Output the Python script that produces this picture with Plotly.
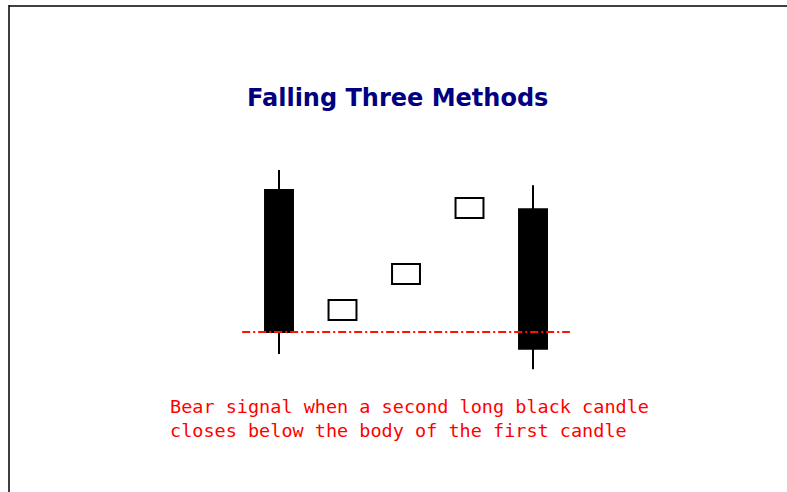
import plotly.graph_objects as go

# Five sessions of the falling three methods pattern
sessions = [1, 2, 3, 4, 5]
open_px = [47.5, 15.0, 24.0, 40.5, 42.7]
high_px = [52.5, 20.0, 29.0, 45.5, 48.7]
low_px = [6.5, 15.0, 24.0, 40.5, 2.7]
close_px = [12.0, 20.0, 29.0, 45.5, 7.8]

title_text = "Falling Three Methods"
note_lines = [
    "Bear signal when a second long black candle",
    "closes below the body of the first candle",
]

W, H = 787, 492
BODY_WIDTH = 0.44  # candle body width in session units

fig = go.Figure()

body_base = [min(o, c) for o, c in zip(open_px, close_px)]
body_top = [max(o, c) for o, c in zip(open_px, close_px)]
body_len = [t - b for b, t in zip(body_base, body_top)]
body_fill = ["black" if c < o else "white" for o, c in zip(open_px, close_px)]

# Wicks: upper and lower shadows outside each body
wick_x, wick_y = [], []
for s, lo, hi, b, t in zip(sessions, low_px, high_px, body_base, body_top):
    if hi > t:
        wick_x += [s, s, None]
        wick_y += [t, hi, None]
    if lo < b:
        wick_x += [s, s, None]
        wick_y += [lo, b, None]
fig.add_trace(go.Scatter(
    x=wick_x, y=wick_y, mode="lines",
    line=dict(color="black", width=2),
    hoverinfo="skip", showlegend=False,
))

# Bodies: black when the session closes lower, hollow when it closes higher
fig.add_trace(go.Bar(
    x=sessions, y=body_len, base=body_base,
    width=BODY_WIDTH,
    marker=dict(color=body_fill, line=dict(color="black", width=2)),
    hoverinfo="skip", showlegend=False,
))

# Support level at the close of the first long black candle
fig.add_trace(go.Scatter(
    x=[sessions[0] - 0.58, sessions[-1] + 0.58],
    y=[close_px[0], close_px[0]],
    mode="lines",
    line=dict(color="#ff1000", width=1.8, dash="8px,3px,2px,3px"),
    hoverinfo="skip",
    showlegend=False,
))

fig.add_annotation(
    text=f"<b>{title_text}</b>",
    xref="paper", yref="paper",
    x=397.5 / W, y=1 - 98 / H,
    xanchor="center", yanchor="middle",
    showarrow=False,
    font=dict(family="DejaVu Sans", size=24, color="#000080"),
)

fig.add_annotation(
    text="<br>".join(note_lines),
    xref="paper", yref="paper",
    x=168 / W, y=1 - 418 / H,
    xanchor="left", yanchor="middle",
    align="left",
    showarrow=False,
    font=dict(family="DejaVu Sans Mono", size=18.5, color="#ff0000"),
)

# Frame lines along the top and left edges
fig.add_shape(type="line", xref="paper", yref="paper",
              x0=9 / W, x1=1, y0=1 - 6 / H, y1=1 - 6 / H,
              line=dict(color="black", width=1.5))
fig.add_shape(type="line", xref="paper", yref="paper",
              x0=9 / W, x1=9 / W, y0=0, y1=1 - 5 / H,
              line=dict(color="black", width=1.5))

fig.update_layout(
    width=W, height=H,
    margin=dict(l=0, r=0, t=0, b=0),
    paper_bgcolor="white", plot_bgcolor="white",
    xaxis=dict(range=[-3.394, 9.0], visible=False, fixedrange=True),
    yaxis=dict(range=[-28, 95], visible=False, fixedrange=True),
)

fig.write_html("out.html")
